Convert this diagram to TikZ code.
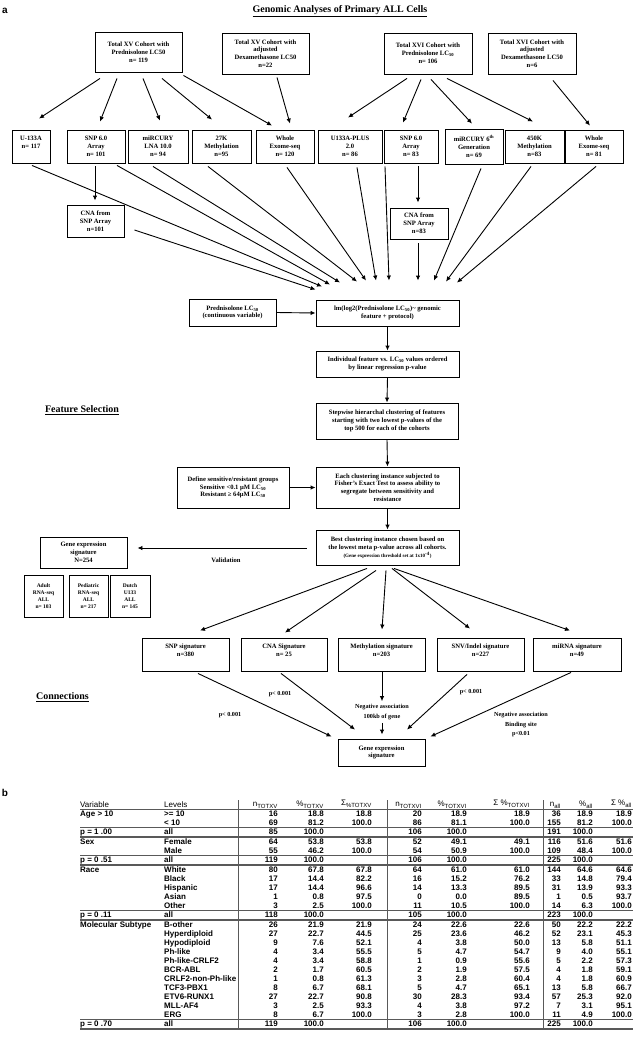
\documentclass[tikz,border=0pt]{standalone}
\usepackage{fontspec}
\setmainfont{Liberation Serif}
\newfontfamily\tabfont{Liberation Sans}
\usetikzlibrary{arrows.meta,calc}
\begin{document}
\begin{tikzpicture}[x=1pt,y=-1pt,
  box/.style={draw, line width=0.9pt, align=center, inner sep=0pt, font=\bfseries\fontsize{6.6}{7.8}\selectfont},
  sbox/.style={box, font=\bfseries\fontsize{5.5}{7.2}\selectfont},
  arr/.style={-{Latex[length=5pt,width=4.5pt]}, line width=0.9pt},
  lbl/.style={align=center, inner sep=0pt, font=\bfseries\fontsize{6.2}{9.5}\selectfont},
  head/.style={inner sep=0pt, font=\bfseries\fontsize{10}{11}\selectfont},
  panel/.style={inner sep=0pt, font=\tabfont\bfseries\fontsize{10}{10}\selectfont},
  tl/.style={anchor=base west, inner sep=0pt, font=\tabfont\bfseries\fontsize{8}{9}\selectfont},
  tr/.style={anchor=base east, inner sep=0pt, font=\tabfont\bfseries\fontsize{8}{9}\selectfont},
  th/.style={anchor=base east, inner sep=0pt, font=\tabfont\fontsize{8}{9}\selectfont},
  rule/.style={draw=gray!70!black, line width=0.6pt}
]
\useasboundingbox (0,0) rectangle (639,1050);
\fill[white] (0,0) rectangle (639,1050);

% panel labels and headings
\node[panel] (pa) at (5,11) {a};
\node[panel] (pb) at (5,793) {b};
\node[head] (title) at (340,11) {\underline{Genomic Analyses of Primary ALL Cells}};
\node[head] (fs) at (82,410) {\underline{Feature Selection}};
\node[head] (conn) at (62.5,697) {\underline{Connections}};

% top row
\node[box, minimum width=87pt, minimum height=40pt] (xvP) at (138.5,52) {Total XV Cohort with\\Prednisolone LC50\\n= 119};
\node[box, minimum width=87pt, minimum height=41pt] (xvD) at (265.5,53.5) {Total XV Cohort with\\adjusted\\Dexamethasone LC50\\n=22};
\node[box, minimum width=88pt, minimum height=41pt] (xviP) at (428,53.5) {Total XVI Cohort with\\Prednisolone LC\textsubscript{50}\\n= 106};
\node[box, minimum width=88pt, minimum height=41pt] (xviD) at (532,53.5) {Total XVI Cohort with\\adjusted\\Dexamethasone LC50\\n=6};

% second row
\node[box, minimum width=38pt, minimum height=33pt] (u133) at (31,146.5) {U-133A\\n= 117\\\phantom{n}};
\node[box, minimum width=58pt, minimum height=33pt] (snpXV) at (96,146.5) {SNP 6.0\\Array\\n= 101};
\node[box, minimum width=60pt, minimum height=33pt] (mirXV) at (158,146.5) {miRCURY\\LNA 10.0\\n= 94};
\node[box, minimum width=59pt, minimum height=33pt] (k27) at (221.5,146.5) {27K\\Methylation\\n=95};
\node[box, minimum width=58pt, minimum height=33pt] (weXV) at (285,146.5) {Whole\\Exome-seq\\n= 120};
\node[box, minimum width=64pt, minimum height=33pt] (u133p) at (350,146.5) {U133A-PLUS\\2.0\\n= 86};
\node[box, minimum width=54pt, minimum height=33pt] (snpXVI) at (411,146.5) {SNP 6.0\\Array\\n= 83};
\node[box, minimum width=58pt, minimum height=35pt] (mirXVI) at (474,146.5) {miRCURY 6\textsuperscript{th}\\Generation\\n= 69};
\node[box, minimum width=59pt, minimum height=33pt] (k450) at (534.5,146.5) {450K\\Methylation\\n=83};
\node[box, minimum width=58pt, minimum height=33pt] (weXVI) at (594,146.5) {Whole\\Exome-seq\\n= 81};

% CNA boxes
\node[box, minimum width=57pt, minimum height=32pt] (cnaXV) at (95.5,221) {CNA from\\SNP Array\\n=101};
\node[box, minimum width=58pt, minimum height=31pt] (cnaXVI) at (419,223.5) {CNA from\\SNP Array\\n=83};

% main column
\node[box, minimum width=143pt, minimum height=26pt] (lm) at (387.5,313) {lm(log2(Prednisolone LC\textsubscript{50})\textasciitilde{} genomic\\feature + protocol)};
\node[box, minimum width=87pt, minimum height=27pt] (pred) at (232.5,312.5) {Prednisolone LC\textsubscript{50}\\(continuous variable)};
\node[box, minimum width=143pt, minimum height=26pt] (indiv) at (387.5,364) {Individual feature vs. LC\textsubscript{50} values ordered\\by linear regression p-value};
\node[box, minimum width=142pt, minimum height=36pt] (stepw) at (387,421) {Stepwise hierarchal clustering of features\\starting with two lowest p-values of the\\top 500 for each of the cohorts};
\node[box, minimum width=143pt, minimum height=41pt] (fisher) at (387.5,487.5) {Each clustering instance subjected to\\Fisher’s Exact Test to assess ability to\\segregate between sensitivity and\\resistance};
\node[box, minimum width=143pt, minimum height=35pt] (best) at (387.5,547.5) {Best clustering instance chosen based on\\the lowest meta p-value across all cohorts.\\{\fontsize{5}{6}\selectfont (Gene expression threshold set at 1x10\textsuperscript{-4})}};
\node[box, minimum width=112pt, minimum height=41pt] (define) at (233,487.5) {Define sensitive/resistant groups\\Sensitive <0.1 μM LC\textsubscript{50}\\Resistant ≥ 64μM LC\textsubscript{50}};

% validation
\node[box, minimum width=87pt, minimum height=31pt] (gesN) at (83.5,552.5) {Gene expression\\signature\\N=254};
\node[sbox, minimum width=39pt, minimum height=42pt] (adult) at (43.5,596) {Adult\\RNA-seq\\ALL\\n= 103};
\node[sbox, minimum width=39pt, minimum height=42pt] (ped) at (88.5,596) {Pediatric\\RNA-seq\\ALL\\n= 217};
\node[sbox, minimum width=40pt, minimum height=42pt] (dutch) at (130,596) {Dutch\\U133\\ALL\\n= 145};
\node[lbl, font=\bfseries\fontsize{6.6}{8}\selectfont] (valid) at (226,560) {Validation};

% signatures
\node[box, minimum width=87pt, minimum height=33pt] (snpSig) at (185.5,654.5) {SNP signature\\n=380\\\phantom{n}};
\node[box, minimum width=86pt, minimum height=33pt] (cnaSig) at (284,654.5) {CNA Signature\\n= 25\\\phantom{n}};
\node[box, minimum width=87pt, minimum height=33pt] (metSig) at (381.5,654.5) {Methylation signature\\n=203\\\phantom{n}};
\node[box, minimum width=87pt, minimum height=33pt] (snvSig) at (480.5,654.5) {SNV/Indel signature\\n=227\\\phantom{n}};
\node[box, minimum width=88pt, minimum height=33pt] (mirSig) at (577,654.5) {miRNA signature\\n=49\\\phantom{n}};
\node[box, minimum width=87pt, minimum height=27pt] (gesF) at (381.5,752.5) {Gene expression\\signature};

% connection labels
\node[lbl] (neg) at (382,712) {Negative association\\100kb of gene};
\node[lbl] (pcna) at (280,694) {p< 0.001};
\node[lbl] (psnp) at (230,715) {p< 0.001};
\node[lbl] (psnv) at (471,692) {p< 0.001};
\node[lbl] (pmir) at (521,724.5) {Negative association\\Binding site\\p<0.01};

% arrows: top row
\draw[arr] ($(xvP.south)+(-38.5,6)$) -- ($(u133.north)+(8,-11)$);
\draw[arr] ($(xvP.south)+(-21.5,6)$) -- ($(snpXV.north)+(4,-8)$);
\draw[arr] ($(xvP.south)+(4.5,6)$) -- ($(mirXV.north)+(2,-9)$);
\draw[arr] ($(xvP.south)+(23.5,6)$) -- ($(k27.north)+(-9.5,-10)$);
\draw[arr] ($(xvP.south east)+(1,3)$) -- ($(weXV.north)+(-13,-4)$);
\draw[arr] ($(xvD.south)+(11.5,3)$) -- ($(weXV.north)+(5,-6)$);
\draw[arr] ($(xviP.south)+(-21,4)$) -- ($(u133p.north)+(-2,-12)$);
\draw[arr] ($(xviP.south)+(-7,5)$) -- ($(snpXVI.north)+(-8,-7)$);
\draw[arr] ($(xviP.south)+(3,5)$) -- ($(mirXVI.north)+(-2,-5)$);
\draw[arr] ($(xviP.south)+(19,4)$) -- ($(k450.north)+(-1.5,-8)$);
\draw[arr] ($(xviD.south)+(21,6)$) -- ($(weXVI.north)+(-4,-4)$);

% CNA arrows
\draw[arr] ($(snpXV.south)+(-1,3)$) -- ($(cnaXV.north)+(-0.5,-4)$);
\draw[arr] ($(snpXVI.south)+(7,3)$) -- ($(cnaXVI.north)+(-1,-5)$);

% converging to lm
\draw[arr] ($(u133.south)+(1,2)$) -- ($(lm.north)+(-65.5,-13)$);
\draw[arr] ($(snpXV.south)+(21,2)$) -- ($(lm.north)+(-57.5,-15)$);
\draw[arr] ($(mirXV.south)+(-5,3)$) -- ($(lm.north)+(-47.5,-17)$);
\draw[arr] ($(k27.south)+(-13.5,3)$) -- ($(lm.north)+(-30.5,-18)$);
\draw[arr] ($(weXV.south)+(2,4)$) -- ($(lm.north)+(-21.5,-19)$);
\draw[arr] ($(cnaXV.east)+(10,9)$) -- ($(lm.north west)+(0,-10)$);
\draw[arr] ($(u133p.south)+(7,4)$) -- ($(lm.north)+(-11.5,-19)$);
\draw[arr] ($(snpXVI.south)+(-26,3)$) -- ($(lm.north)+(1.5,-19)$);
\draw[arr] ($(cnaXVI.south)+(-1,4)$) -- ($(lm.north)+(30.5,-19)$);
\draw[arr] ($(mirXVI.south)+(7,4)$) -- ($(lm.north)+(46.5,-19)$);
\draw[arr] ($(k450.south)+(-3.5,3)$) -- ($(lm.north)+(58.5,-18)$);
\draw[arr] ($(weXVI.south)+(2,3)$) -- ($(lm.north)+(69.5,-17)$);

% main column
\draw[arr] (pred.east) -- (lm.west);
\draw[arr] (lm.south) -- (indiv.north);
\draw[arr] (indiv.south) -- (stepw.north);
\draw[arr] (stepw.south) -- (fisher.north);
\draw[arr] (fisher.south) -- (best.north);
\draw[arr] (define.east) -- (fisher.west);
\draw[arr] ($(best.west)+(-9,0.5)$) -- ($(gesN.east)+(10,-4.5)$);

% best -> signatures
\draw[arr] ($(best.south)+(-20.5,3)$) -- ($(snpSig.north)+(14.5,-7)$);
\draw[arr] ($(best.south)+(-11.5,5)$) -- ($(cnaSig.north)+(1,-5)$);
\draw[arr] ($(best.south)+(-1.5,5)$) -- ($(metSig.north)+(0.5,-8)$);
\draw[arr] ($(best.south)+(4.5,3)$) -- ($(snvSig.north)+(-10.5,-9)$);
\draw[arr] ($(best.south)+(6.5,3)$) -- ($(mirSig.north)+(-7,-7)$);

% signatures -> gene expression signature
\draw[arr] ($(snpSig.south)+(12.5,2)$) -- ($(gesF.north west)+(-6,-2)$);
\draw[arr] ($(cnaSig.south)+(-3,2)$) -- ($(gesF.north)+(-26.5,-9)$);
\draw[arr] ($(metSig.south)+(0.5,1)$) -- ($(neg.north)+(0,-3)$);
\draw[arr] ($(neg.south)+(0,3)$) -- ($(gesF.north)+(0.5,-4)$);
\draw[arr] ($(snvSig.south)+(-13.5,3)$) -- ($(gesF.north)+(25.5,-9)$);
\draw[arr] ($(mirSig.south)+(-6,1)$) -- ($(gesF.north east)+(5,-2)$);

% ---------- table ----------
\node[tl, font=\tabfont\fontsize{8}{9}\selectfont] (hv) at (80,807.3) {Variable};
\node[tl, font=\tabfont\fontsize{8}{9}\selectfont] (hl) at (164,807.3) {Levels};
\node[th] (h1) at (278,806.6) {n\textsubscript{TOTXV}};
\node[th] (h2) at (324,806.6) {\%\textsubscript{TOTXV}};
\node[th] (h3) at (372,805.6) {Σ\textsubscript{\%TOTXV}};
\node[th] (h4) at (422,806.6) {n\textsubscript{TOTXVI}};
\node[th] (h5) at (467,806.6) {\%\textsubscript{TOTXVI}};
\node[th] (h6) at (530,805.6) {Σ \%\textsubscript{TOTXVI}};
\node[th] (h7) at (561,806.6) {n\textsubscript{all}};
\node[th] (h8) at (593,806.6) {\%\textsubscript{all}};
\node[th] (h9) at (632,805.6) {Σ \%\textsubscript{all}};

\foreach \qy/\qa/\qb/\qc/\qd/\qe/\qf/\qg/\qh/\qi/\qj/\qk [count=\qn] in {
813.5/Age > 10/>= 10/16/18.8/18.8/20/18.9/18.9/36/18.9/18.9,
822.5/{}/< 10/69/81.2/100.0/86/81.1/100.0/155/81.2/100.0,
831.5/p = 1 .00/all/85/100.0/{}/106/100.0/{}/191/100.0/{},
841.5/Sex/Female/64/53.8/53.8/52/49.1/49.1/116/51.6/51.6,
850.5/{}/Male/55/46.2/100.0/54/50.9/100.0/109/48.4/100.0,
859.5/p = 0 .51/all/119/100.0/{}/106/100.0/{}/225/100.0/{},
869.5/Race/White/80/67.8/67.8/64/61.0/61.0/144/64.6/64.6,
878.5/{}/Black/17/14.4/82.2/16/15.2/76.2/33/14.8/79.4,
887.5/{}/Hispanic/17/14.4/96.6/14/13.3/89.5/31/13.9/93.3,
896.5/{}/Asian/1/0.8/97.5/0/0.0/89.5/1/0.5/93.7,
905.5/{}/Other/3/2.5/100.0/11/10.5/100.0/14/6.3/100.0,
914.5/p = 0 .11/all/118/100.0/{}/105/100.0/{}/223/100.0/{},
924.5/Molecular Subtype/B-other/26/21.9/21.9/24/22.6/22.6/50/22.2/22.2,
933.5/{}/Hyperdiploid/27/22.7/44.5/25/23.6/46.2/52/23.1/45.3,
942.5/{}/Hypodiploid/9/7.6/52.1/4/3.8/50.0/13/5.8/51.1,
951.5/{}/Ph-like/4/3.4/55.5/5/4.7/54.7/9/4.0/55.1,
960.5/{}/Ph-like-CRLF2/4/3.4/58.8/1/0.9/55.6/5/2.2/57.3,
969.5/{}/BCR-ABL/2/1.7/60.5/2/1.9/57.5/4/1.8/59.1,
978.5/{}/CRLF2-non-Ph-like/1/0.8/61.3/3/2.8/60.4/4/1.8/60.9,
987.5/{}/TCF3-PBX1/8/6.7/68.1/5/4.7/65.1/13/5.8/66.7,
996.5/{}/ETV6-RUNX1/27/22.7/90.8/30/28.3/93.4/57/25.3/92.0,
1005.5/{}/MLL-AF4/3/2.5/93.3/4/3.8/97.2/7/3.1/95.1,
1014.5/{}/ERG/8/6.7/100.0/3/2.8/100.0/11/4.9/100.0,
1023.5/p = 0 .70/all/119/100.0/{}/106/100.0/{}/225/100.0/{}}{
  \node[tl] (tv\qn) at (80,\qy+2.9) {\qa};
  \node[tl] (tl\qn) at (164,\qy+2.9) {\qb};
  \node[tr] (ta\qn) at (278,\qy+2.9) {\qc};
  \node[tr] (tb\qn) at (324,\qy+2.9) {\qd};
  \node[tr] (tc\qn) at (372,\qy+2.9) {\qe};
  \node[tr] (td\qn) at (422,\qy+2.9) {\qf};
  \node[tr] (te\qn) at (467,\qy+2.9) {\qg};
  \node[tr] (tf\qn) at (530,\qy+2.9) {\qh};
  \node[tr] (tg\qn) at (561,\qy+2.9) {\qi};
  \node[tr] (th\qn) at (593,\qy+2.9) {\qj};
  \node[tr] (ti\qn) at (632,\qy+2.9) {\qk};
}
% rules
\draw[rule] (80,809.3) -- (633,809.3);
\foreach \py in {831.5,859.5,914.5,1023.5}{
  \draw[rule] (80,\py-4.6) -- (633,\py-4.6);
  \draw[rule, line width=0.5pt] (80,\py+4.3) -- (633,\py+4.3);
  \draw[rule, line width=0.5pt] (80,\py+5.9) -- (633,\py+5.9);
}
\foreach \vx in {238,387,543}{
  \draw[rule] (\vx,800) -- (\vx,1029.4);
}
\end{tikzpicture}
\end{document}
